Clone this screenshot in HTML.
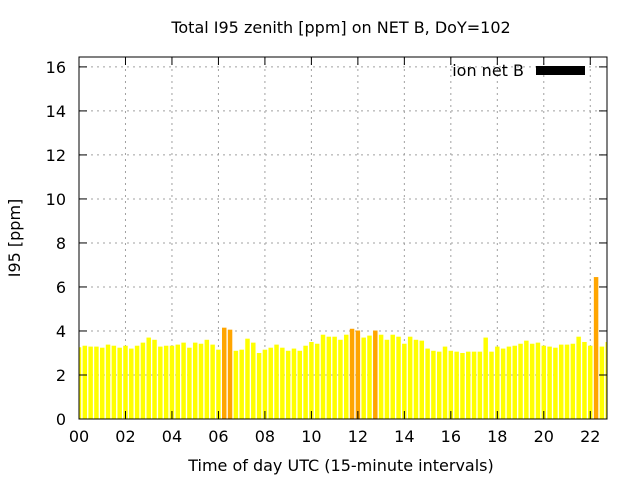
<!DOCTYPE html>
<html><head><meta charset="utf-8"><style>
html,body{margin:0;padding:0;background:#fff;}
svg text{font-family:"DejaVu Sans","Liberation Sans",sans-serif;fill:#000;}
</style></head><body>
<svg id="chart" width="640" height="480" xmlns="http://www.w3.org/2000/svg">
<rect width="640" height="480" fill="#fff"/>
<text x="341" y="33" font-size="16" text-anchor="middle">Total I95 zenith [ppm] on NET B, DoY=102</text>
<g id="grid"></g>
<g id="bars"></g>
<g id="axes"></g>
<text transform="translate(20,238) rotate(-90)" font-size="16" text-anchor="middle">I95 [ppm]</text>
<text x="341" y="471" font-size="16" text-anchor="middle">Time of day UTC (15-minute intervals)</text>
<g>
<text x="524" y="76" font-size="16" text-anchor="end">ion net B</text>
<rect x="536" y="66" width="49" height="9" fill="#000"/>
</g>
</svg>
<script>
const values = [3.26,3.33,3.29,3.29,3.24,3.38,3.33,3.24,3.33,3.2,3.33,3.47,3.7,3.6,3.29,3.33,3.33,3.38,3.47,3.24,3.47,3.42,3.6,3.38,3.15,4.15,4.06,3.1,3.15,3.65,3.47,3.0,3.15,3.24,3.38,3.24,3.1,3.2,3.1,3.33,3.5,3.42,3.83,3.74,3.74,3.6,3.83,4.1,4.02,3.7,3.79,4.02,3.83,3.6,3.83,3.74,3.42,3.74,3.6,3.56,3.2,3.1,3.06,3.29,3.1,3.06,3.0,3.06,3.06,3.06,3.7,3.06,3.29,3.2,3.29,3.33,3.42,3.56,3.42,3.47,3.33,3.29,3.24,3.38,3.38,3.42,3.74,3.5,3.33,6.45,3.29,3.5];
const yTicks = [0,2,4,6,8,10,12,14,16];
const xTicks = [0,2,4,6,8,10,12,14,16,18,20,22];
const xTickLabels = ["00","02","04","06","08","10","12","14","16","18","20","22"];
const L=79,R=607,T=57,B=419;
const X0=0,X1=22.72,Y0=0,Y1=16.45;
const NS="http://www.w3.org/2000/svg";
function sx(h){return L+(h-X0)/(X1-X0)*(R-L);}
function sy(v){return B-(v-Y0)/(Y1-Y0)*(B-T);}
function mk(tag,attrs,parent){const e=document.createElementNS(NS,tag);for(const k in attrs)e.setAttribute(k,attrs[k]);parent.appendChild(e);return e;}
const grid=document.getElementById('grid'),bars=document.getElementById('bars'),axes=document.getElementById('axes');
const defs=mk('clipPath',{id:'clip'},document.getElementById('chart'));
mk('rect',{x:L,y:T,width:R-L,height:B-T},defs);
bars.setAttribute('clip-path','url(#clip)');
yTicks.forEach(v=>{
  const y=sy(v);
  if(v>0){const g=mk('line',{x1:L,x2:R,y1:y,y2:y,stroke:'#a0a0a0','stroke-dasharray':'2,4'},grid);
  
  }
  mk('line',{x1:L,x2:L+8,y1:y,y2:y,stroke:'#000'},axes);
  mk('line',{x1:R,x2:R-8,y1:y,y2:y,stroke:'#000'},axes);
  const t=mk('text',{x:L-13,y:y+6,'font-size':'16','text-anchor':'end'},axes);
  t.textContent=v;
  
  
});
xTicks.forEach((h,i)=>{
  const x=sx(h);
  if(h>0){const g=mk('line',{x1:x,x2:x,y1:T,y2:B,stroke:'#a0a0a0','stroke-dasharray':'2,4'},grid);
  
  }
  mk('line',{x1:x,x2:x,y1:B,y2:B-8,stroke:'#000'},axes);
  mk('line',{x1:x,x2:x,y1:T,y2:T+8,stroke:'#000'},axes);
  const t=mk('text',{x:x,y:B+23,'font-size':'16','text-anchor':'middle'},axes);
  t.textContent=xTickLabels[i];
  
  
});
const bw=(sx(0.25)-sx(0))*0.77;
values.forEach((v,i)=>{
  const x=sx(i*0.25);
  const r=mk('rect',{x:x-bw/2,y:sy(v),width:bw,height:sy(0)-sy(v),fill:v>=4?'#ffa500':'#ffff00'},bars);
  
  
});
const fr=mk('rect',{x:L,y:T,width:R-L,height:B-T,fill:'none',stroke:'#000','stroke-width':1},axes);


</script>
</body></html>
